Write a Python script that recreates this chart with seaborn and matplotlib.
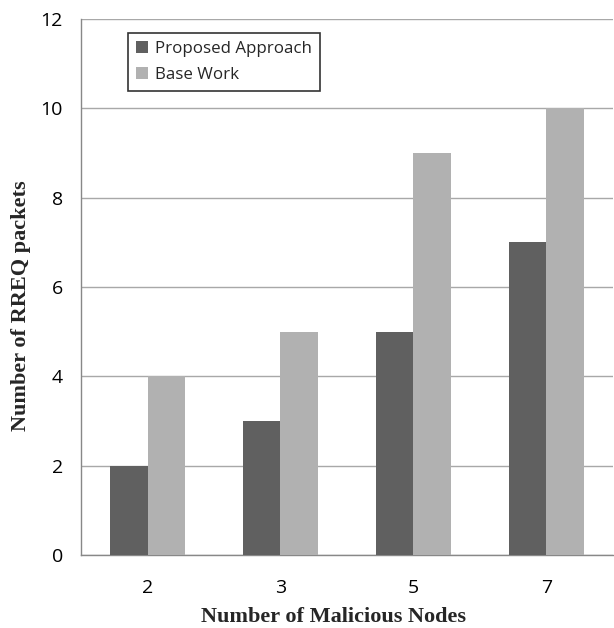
import pandas as pd
import matplotlib.pyplot as plt
import seaborn as sns

# values
nodes = ['2', '3', '5', '7']
proposed = [2, 3, 5, 7]
base_work = [4, 5, 9, 10]
series_names = ['Proposed Approach', 'Base Work']
yticks = [0, 2, 4, 6, 8, 10, 12]

df = pd.DataFrame({
    'Nodes': nodes * 2,
    'RREQ': proposed + base_work,
    'Series': [series_names[0]] * len(nodes) + [series_names[1]] * len(nodes),
})

sns.set_style('white')
plt.rcParams['font.family'] = ['Open Sans', 'DejaVu Sans']

fig = plt.figure(figsize=(6.14, 6.28), dpi=100)
ax = fig.add_axes([0.132, 0.116, 0.866, 0.854])

sns.barplot(data=df, x='Nodes', y='RREQ', hue='Series', order=nodes,
            hue_order=series_names, palette=['#606060', '#b1b1b1'],
            width=0.56, gap=0, saturation=1, linewidth=0, ax=ax, zorder=3)

ax.set_ylim(0, 12)
ax.set_xlim(-0.5, len(nodes) - 0.5)
ax.set_yticks(yticks)
ax.yaxis.grid(True, color='#a8a8a8', linewidth=1, zorder=0)
ax.set_axisbelow(True)

# category boundary ticks on the x axis, like Excel
ax.set_xticks([i - 0.5 for i in range(len(nodes) + 1)], minor=True)
ax.tick_params(axis='x', which='major', length=0, pad=17, labelsize=14)
ax.tick_params(axis='x', which='minor', length=7, color='#888888', direction='out')
ax.tick_params(axis='y', length=7, color='#888888', direction='out', labelsize=14, pad=6)
ax.tick_params(axis='both', colors='#888888', labelcolor='black')

for side in ['top', 'right']:
    ax.spines[side].set_visible(False)
for side in ['left', 'bottom']:
    ax.spines[side].set_color('#888888')
    ax.spines[side].set_linewidth(1)

ax.set_xlabel('Number of Malicious Nodes', fontfamily='Liberation Serif',
              fontweight='bold', fontsize=16)
ax.set_ylabel('Number of RREQ packets', fontfamily='Liberation Serif',
              fontweight='bold', fontsize=16)
ax.xaxis.set_label_coords(0.474, -0.097)
ax.yaxis.set_label_coords(-0.094, 0.465)

leg = ax.legend(loc='upper left', bbox_to_anchor=(0.088, 0.974), fontsize=12.2,
                frameon=True, fancybox=False, borderpad=0.5, handlelength=0.7,
                handleheight=0.7, handletextpad=0.4, labelspacing=0.55,
                borderaxespad=0)
leg.get_frame().set_edgecolor('black')
leg.get_frame().set_linewidth(1.2)

plt.savefig('out.png', dpi=100)
